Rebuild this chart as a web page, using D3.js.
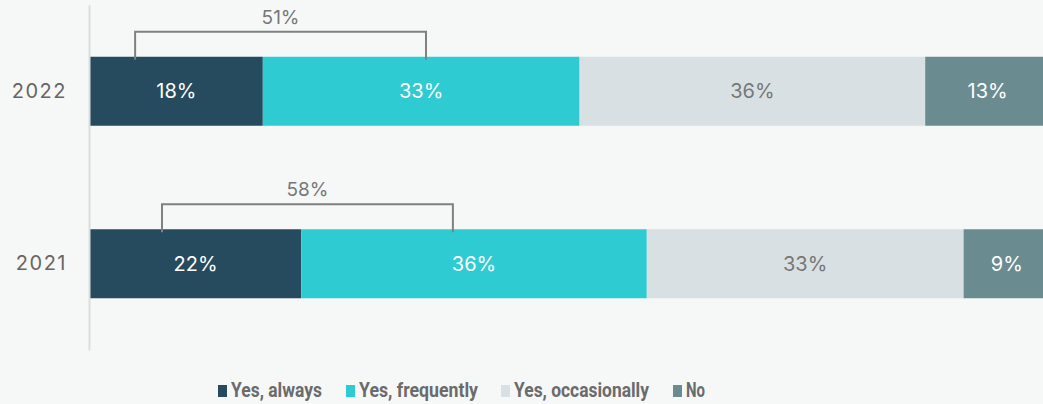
<!DOCTYPE html>
<html>
<head>
<meta charset="utf-8">
<script src="https://cdn.jsdelivr.net/npm/d3@7"></script>
<style>
  html, body { margin: 0; padding: 0; background: #f6f8f8; overflow: hidden; }
  svg { display: block; font-family: Inter, "Noto Sans", sans-serif; }
</style>
</head>
<body>
<svg width="1043" height="404"></svg>
<script>
// data
const years = ["2022", "2021"];
const seriesNames = ["Yes, always", "Yes, frequently", "Yes, occasionally", "No"];
const always = [18, 22];
const frequently = [33, 36];
const occasionally = [36, 33];
const no = [13, 9];
const bracketLabels = ["51%", "58%"];
const bracketFrom = [4.7, 7.5];   // in % of the axis
const bracketTo = [35.0, 37.8];

const colors = ["#264a5e", "#2ecbd3", "#d9e0e3", "#6a8b8f"];
const labelColors = ["#ffffff", "#ffffff", "#777777", "#ffffff"];

const svg = d3.select("svg");

// the bar runs a little past the right edge of the picture
const xScale = d3.scaleLinear().domain([0, 100]).range([90, 1050]);
const yScale = d3.scaleBand().domain(years).range([5, 350])
  .paddingInner(0.6).paddingOuter(0.3);

// build stacked rows
const rows = years.map((yr, i) => {
  const vals = [always[i], frequently[i], occasionally[i], no[i]];
  let acc = 0;
  return vals.map((v, k) => {
    const seg = { year: yr, k: k, v: v, x0: acc, x1: acc + v };
    acc += v;
    return seg;
  });
});
const segs = rows.flat();

svg.selectAll("rect.bar")
  .data(segs)
  .enter()
  .append("rect")
  .attr("class", "bar")
  .attr("x", d => xScale(d.x0))
  .attr("y", d => yScale(d.year))
  .attr("width", d => xScale(d.x1) - xScale(d.x0))
  .attr("height", yScale.bandwidth())
  .attr("fill", d => colors[d.k]);

svg.selectAll("text.val")
  .data(segs)
  .enter()
  .append("text")
  .attr("class", "val")
  .attr("x", d => (xScale(d.x0) + xScale(d.x1)) / 2)
  .attr("y", d => yScale(d.year) + yScale.bandwidth() / 2)
  .attr("dy", "0.36em")
  .attr("text-anchor", "middle")
  .attr("font-size", 20)
  .attr("fill", d => labelColors[d.k])
  .text(d => d.v + "%");

// y axis
const yAxis = d3.axisLeft(yScale).tickSize(0).tickPadding(22);
const ga = svg.append("g")
  .attr("transform", "translate(89,0)")
  .call(yAxis);
ga.select(".domain").attr("stroke", "#dcdcdc").attr("stroke-width", 2);
ga.selectAll("text")
  .attr("font-size", 20)
  .attr("font-family", "Inter, sans-serif")
  .attr("fill", "#666")
  .attr("letter-spacing", "1.5px");

// brackets
years.forEach((yr, i) => {
  const top = yScale(yr) - 25;
  const bottom = yScale(yr) + 3;
  const x1 = xScale(bracketFrom[i]), x2 = xScale(bracketTo[i]);
  svg.append("path")
    .attr("d", `M${x1},${bottom}V${top}H${x2}V${bottom}`)
    .attr("fill", "none")
    .attr("stroke", "#808080")
    .attr("stroke-width", 2);
  svg.append("text")
    .attr("x", (x1 + x2) / 2)
    .attr("y", top - 8)
    .attr("text-anchor", "middle")
    .attr("font-size", 19)
    .attr("fill", "#777")
    .text(bracketLabels[i]);
});

// legend
const legendX = [218, 346, 501, 673];
const legendW = [91, 119, 135, 19];
const items = svg.append("g").selectAll("g")
  .data(seriesNames)
  .enter()
  .append("g")
  .attr("transform", (d, i) => `translate(${legendX[i]},385)`);
items.append("rect")
  .attr("width", 9).attr("height", 12)
  .attr("fill", (d, i) => colors[i]);
items.append("text")
  .attr("x", 13)
  .attr("y", 12)
  .attr("font-size", 21)
  .attr("font-weight", "bold")
  .attr("font-family", "Roboto, sans-serif")
  .attr("fill", "#6b6b6b")
  .attr("textLength", (d, i) => legendW[i])
  .attr("lengthAdjust", "spacingAndGlyphs")
  .text(d => d);
</script>
</body>
</html>
